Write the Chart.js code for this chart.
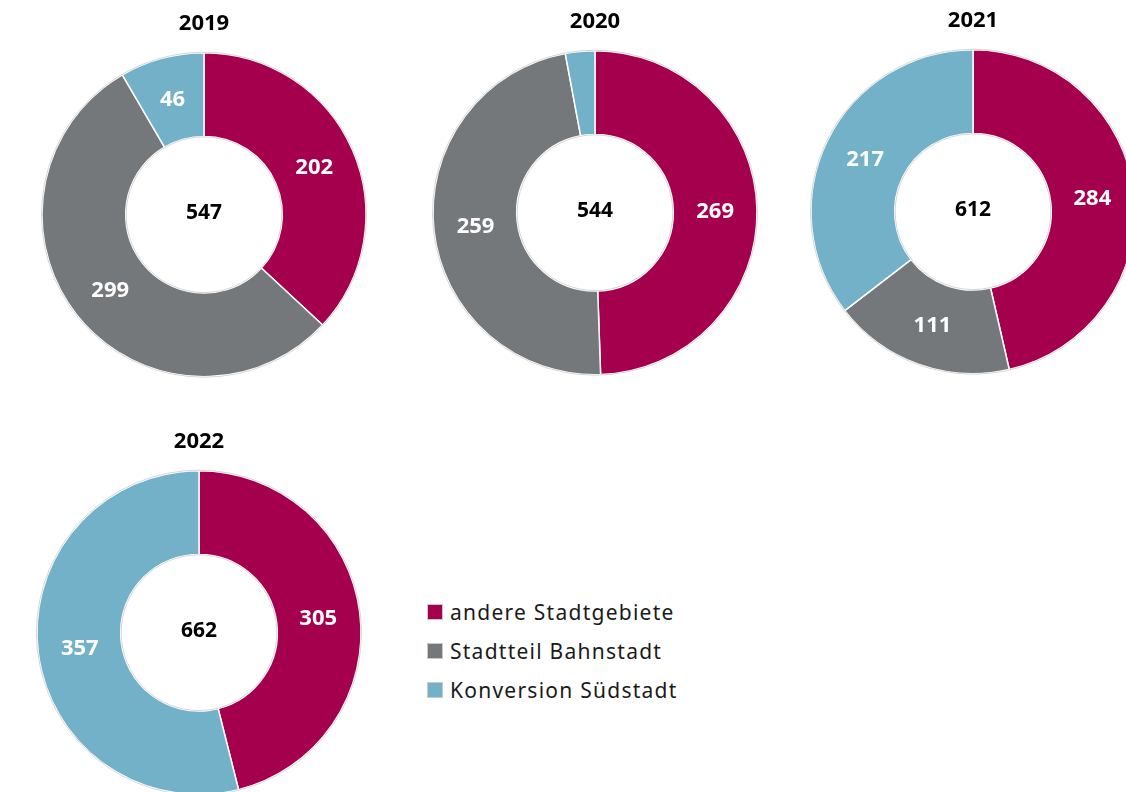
<!DOCTYPE html>
<html>
<head>
<meta charset="utf-8">
<script src="https://cdn.jsdelivr.net/npm/chart.js@4/dist/chart.umd.min.js"></script>
<style>
  html, body { margin:0; padding:0; width:1126px; height:792px; overflow:hidden; background:#fff; font-family:"Noto Sans", sans-serif; }
  .box { position:absolute; width:360px; height:380px; }
  .legend { position:absolute; left:427px; top:592px; font-size:21px; letter-spacing:1.25px; color:#1a1a1a; }
  .legend div { height:39px; line-height:26px; display:flex; align-items:center; }
  .legend span.sw { display:inline-block; width:14px; height:14px; border:1px solid #c8c8c8; margin-right:7px; }
</style>
</head>
<body>
<div class="box" style="left:24px;top:3px"><canvas id="c0"></canvas></div>
<div class="box" style="left:415px;top:1px"><canvas id="c1"></canvas></div>
<div class="box" style="left:793px;top:0px"><canvas id="c2"></canvas></div>
<div class="box" style="left:19px;top:421px"><canvas id="c3"></canvas></div>
<div class="legend" id="legend"></div>
<script>
const years = ['2019', '2020', '2021', '2022'];
const categories = ['andere Stadtgebiete', 'Stadtteil Bahnstadt', 'Konversion Südstadt'];
const andere = [202, 269, 284, 305];
const bahnstadt = [299, 259, 111, 0];
const konversion = [46, 16, 217, 357];
const colors = ['#A5004D', '#75787B', '#72B1C8'];

const FONT = '"Noto Sans", sans-serif';

const ringPlugin = {
  id: 'ring',
  afterDatasetsDraw(chart) {
    const meta = chart.getDatasetMeta(0);
    const a = meta.data[0];
    if (!a) return;
    const ctx = chart.ctx;
    ctx.save();
    ctx.strokeStyle = '#d6d6d6';
    ctx.lineWidth = 1;
    ctx.beginPath(); ctx.arc(a.x, a.y, a.outerRadius + 0.5, 0, Math.PI * 2); ctx.stroke();
    ctx.beginPath(); ctx.arc(a.x, a.y, a.innerRadius - 0.5, 0, Math.PI * 2); ctx.stroke();
    ctx.textAlign = 'center';
    ctx.textBaseline = 'middle';
    const data = chart.data.datasets[0].data;
    ctx.font = 'bold 22px ' + FONT;
    ctx.fillStyle = '#ffffff';
    meta.data.forEach((arc, i) => {
      if (data[i] < 30) return;
      const p = arc.getCenterPoint();
      ctx.fillText(String(data[i]), p.x, p.y + 1);
    });
    const total = data.reduce((s, v) => s + v, 0);
    ctx.fillStyle = '#000000';
    ctx.font = 'bold 21px ' + FONT;
    ctx.fillText(String(total), a.x, a.y - 2);
    ctx.restore();
  }
};

years.forEach((y, k) => {
  new Chart(document.getElementById('c' + k), {
    type: 'doughnut',
    data: {
      labels: categories,
      datasets: [{
        data: [andere[k], bahnstadt[k], konversion[k]],
        backgroundColor: colors,
        borderColor: '#ffffff',
        borderWidth: 1.5
      }]
    },
    options: {
      responsive: true,
      maintainAspectRatio: false,
      animation: false,
      radius: 162,
      cutout: 81,
      layout: { padding: 0 },
      plugins: {
        legend: { display: false },
        tooltip: { enabled: false },
        title: {
          display: true,
          text: y,
          color: '#000',
          font: { family: FONT, size: 22, weight: 'bold' },
          padding: { top: 8, bottom: 9 }
        }
      }
    },
    plugins: [ringPlugin]
  });
});

const lg = document.getElementById('legend');
categories.forEach((c, i) => {
  const d = document.createElement('div');
  const s = document.createElement('span');
  s.className = 'sw';
  s.style.background = colors[i];
  d.appendChild(s);
  d.appendChild(document.createTextNode(c));
  lg.appendChild(d);
});
</script>
</body>
</html>
